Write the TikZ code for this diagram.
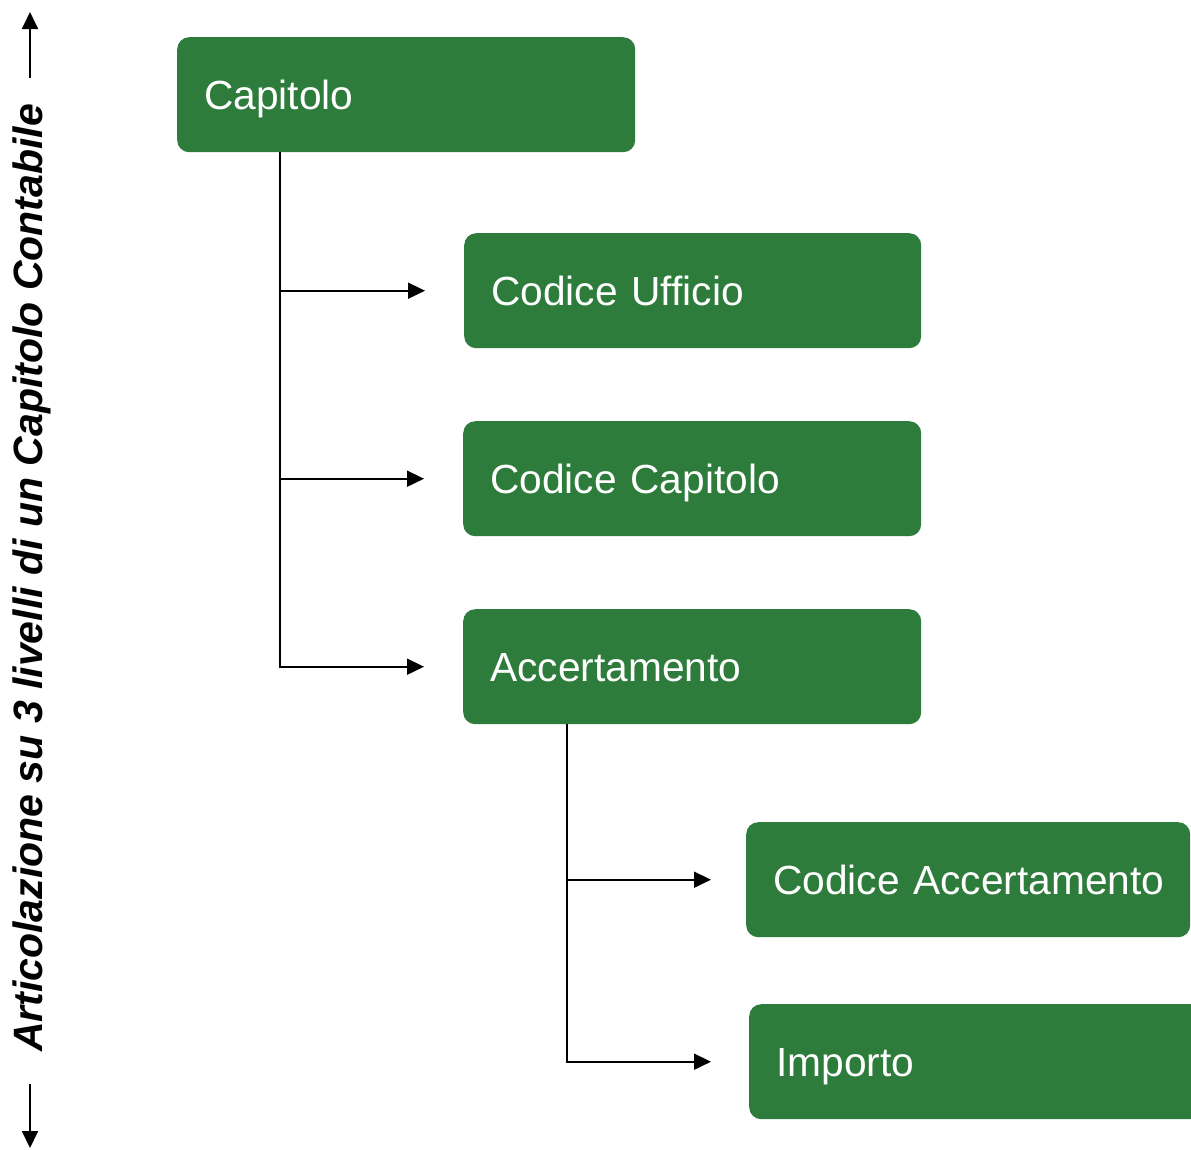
\documentclass[tikz,border=0pt]{standalone}
\usepackage{fontspec}
\setmainfont{Liberation Sans}
\usetikzlibrary{arrows.meta}
\definecolor{boxgreen}{RGB}{46,124,59}
\tikzset{
  box/.style={rectangle, rounded corners=12pt, fill=boxgreen, text=white, draw=none,
    anchor=north west, minimum height=115pt, inner xsep=27pt, inner ysep=0pt,
    align=left, text height=29pt, text depth=0pt, font=\fontsize{40.7pt}{44pt}\selectfont},
  conn/.style={line width=1.8pt, -{Triangle[length=17pt,width=16pt]}},
  plain/.style={line width=1.8pt}
}
\begin{document}
\begin{tikzpicture}[x=1pt,y=-1pt]
\clip (0,0) rectangle (1191,1149);
\fill[white] (0,0) rectangle (1191,1149);
\node[box, minimum width=458pt, text width=404pt] (cap) at (177,37) {\mbox{Capitolo}};
\node[box, minimum width=457pt, text width=403pt] (uff) at (464,233) {\mbox{Codice Ufficio}};
\node[box, minimum width=458pt, text width=404pt] (ccap) at (463,421) {\mbox{Codice Capitolo}};
\node[box, minimum width=458pt, text width=404pt] (acc) at (463,609) {\mbox{Accertamento}};
\node[box, minimum width=444pt, text width=390pt] (cacc) at (746,822) {\mbox{Codice Accertamento}};
\node[box, minimum width=460pt, text width=406pt] (imp) at (749,1004) {\mbox{Importo}};

\draw[plain] ([xshift=103pt]cap.south west) -- ([xshift=103pt]cap.south west |- acc.west);
\draw[conn] ([xshift=103pt]cap.south west) |- ([xshift=-39pt]uff.west);
\draw[conn] ([xshift=103pt]cap.south west) |- ([xshift=-39pt]ccap.west);
\draw[conn] ([xshift=103pt]cap.south west) |- ([xshift=-39pt]acc.west);

\draw[conn] ([xshift=104pt]acc.south west) |- ([xshift=-35pt]cacc.west);
\draw[conn] ([xshift=104pt]acc.south west) |- ([xshift=-38pt]imp.west);

\node[rotate=90, font=\fontsize{41pt}{44pt}\selectfont\bfseries\itshape, inner sep=0pt] (lbl) at (32,578) {Articolazione su 3 livelli di un Capitolo Contabile};
\coordinate (upA) at (30,78);
\coordinate (upB) at (30,12);
\coordinate (dnA) at (30,1084);
\coordinate (dnB) at (30,1148);
\draw[conn] (upA) -- (upB);
\draw[conn] (dnA) -- (dnB);
\end{tikzpicture}
\end{document}
